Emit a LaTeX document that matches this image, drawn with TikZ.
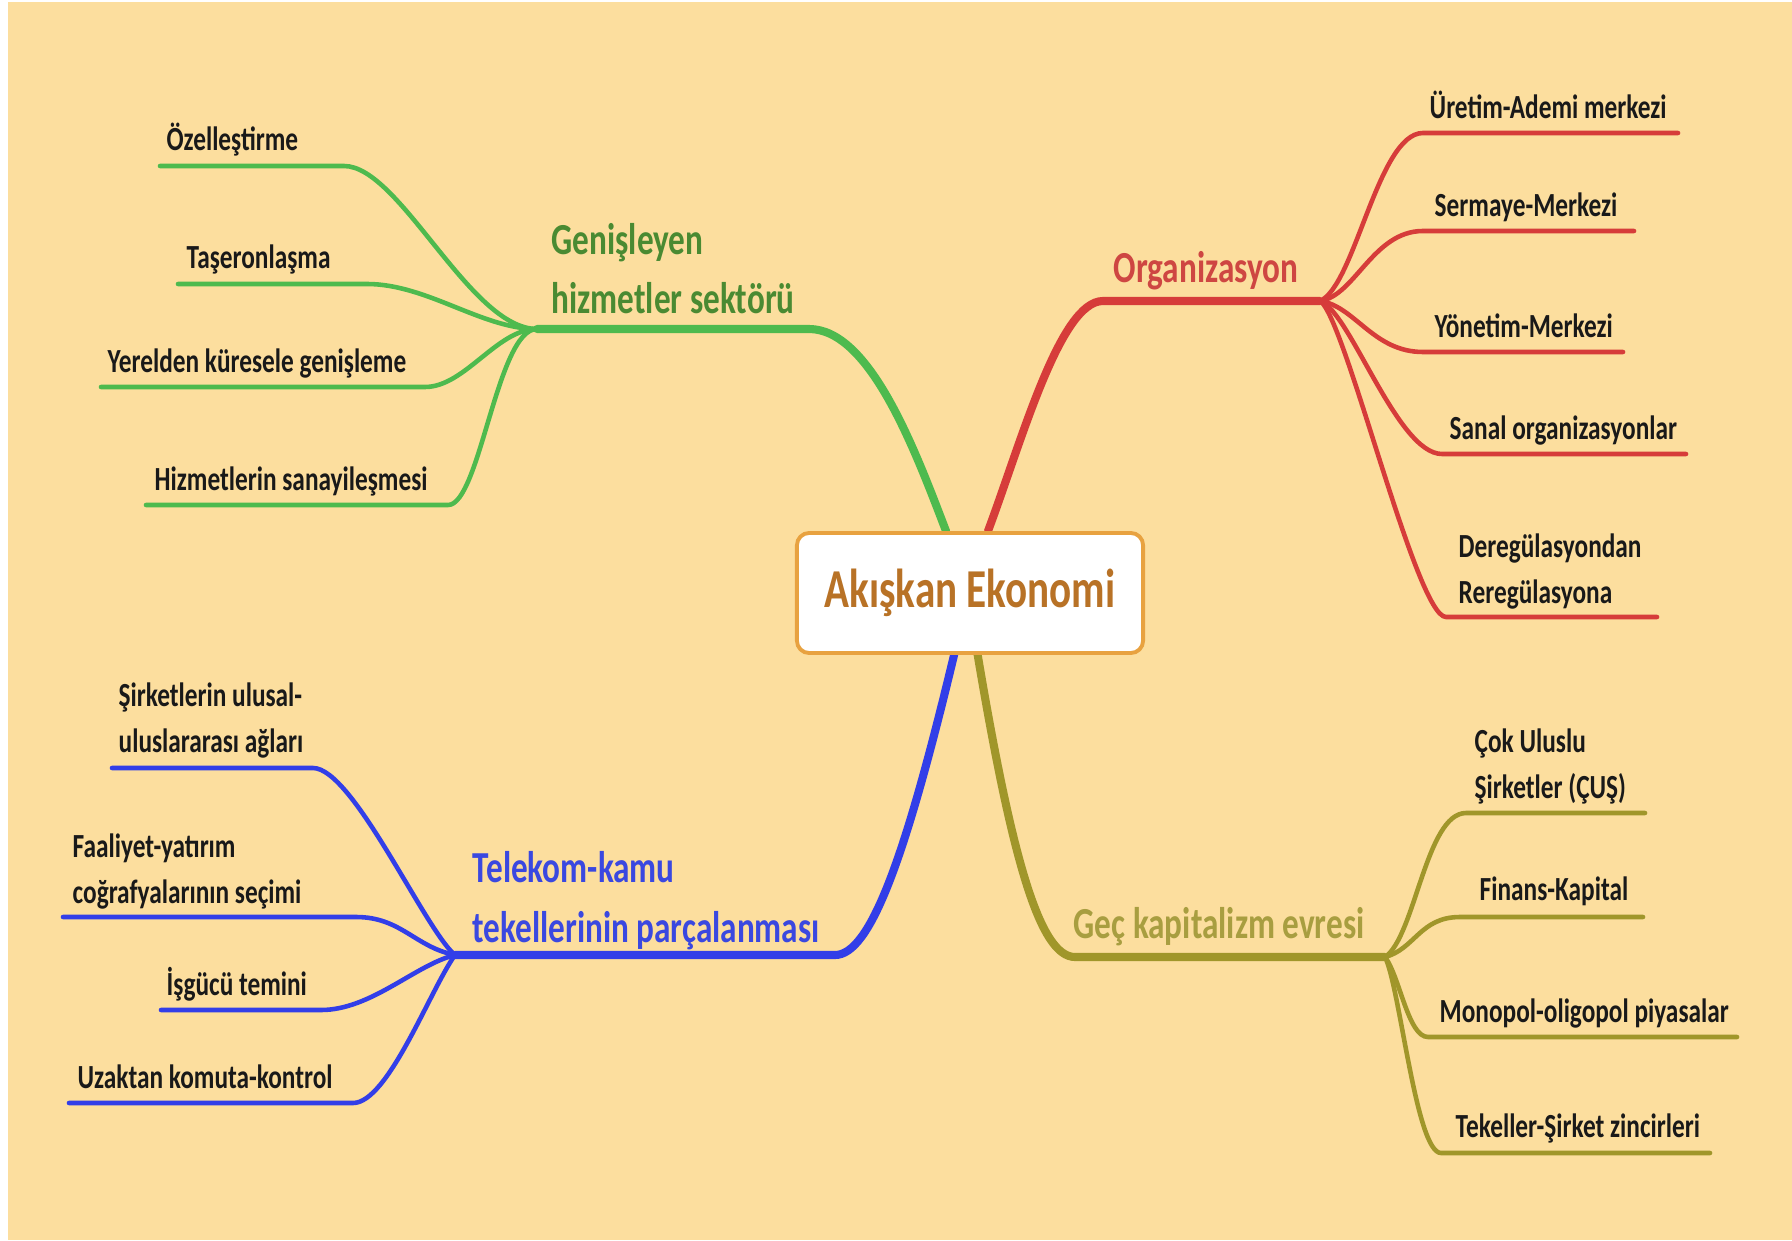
\documentclass[tikz,border=0pt]{standalone}
\usepackage{fontspec}
\setmainfont{Carlito}[FakeStretch=0.75]
\usepackage{tikz}
\usetikzlibrary{positioning,calc}
\definecolor{bg}{RGB}{252,222,158}
\definecolor{grn}{RGB}{78,186,78}
\definecolor{grntxt}{RGB}{74,138,50}
\definecolor{rd}{RGB}{214,60,58}
\definecolor{rdtxt}{RGB}{206,70,66}
\definecolor{blu}{RGB}{50,62,232}
\definecolor{blutxt}{RGB}{58,72,224}
\definecolor{olv}{RGB}{160,150,42}
\definecolor{olvtxt}{RGB}{168,158,64}
\definecolor{ecotxt}{RGB}{184,114,38}
\definecolor{ecoline}{RGB}{232,162,64}
\tikzset{
  leaf/.style={font=\bfseries\fontsize{9.6}{12.8}\selectfont,anchor=base west,inner sep=0pt,align=left,text={black!90}},
  topic/.style={font=\bfseries\fontsize{12.6}{17}\selectfont,anchor=base west,inner sep=0pt,align=left},
  trunk/.style={line width=2.3pt,line cap=round},
  twig/.style={line width=1.3pt,line cap=round},
  ecobox/.style={draw=ecoline,line width=1.1pt,fill=white,rounded corners=3.5pt,minimum width=3.46cm,minimum height=1.2cm,text=ecotxt,font=\bfseries\fontsize{15.6}{18}\selectfont}
}
\begin{document}
\begin{tikzpicture}[x=0.01cm,y=-0.01cm]
\useasboundingbox (0,0) rectangle (1792,1240);
\fill[white] (0,0) rectangle (1792,1240);
\fill[bg] (8,2) rectangle (1792,1240);
% hubs and trunks
\coordinate (gen0) at (946,531); \coordinate (gen1) at (809,329); \coordinate (gen) at (537,329);
\coordinate (org0) at (988,531); \coordinate (org1) at (1103,301); \coordinate (org) at (1320,301);
\coordinate (tel0) at (955,651); \coordinate (tel1) at (835,955); \coordinate (tel) at (455,955);
\coordinate (gec0) at (977,651); \coordinate (gec1) at (1075,957); \coordinate (gec) at (1385,957);
\draw[trunk,grn] (gen0) .. controls (915,450) and (870,329) .. (gen1) -- (gen);
\draw[trunk,rd] (org0) .. controls (1022,440) and (1060,301) .. (org1) -- (org);
\draw[trunk,blu] (tel0) .. controls (905,860) and (870,955) .. (tel1) -- (tel);
\draw[trunk,olv] (gec0) .. controls (1012,860) and (1040,957) .. (gec1) -- (gec);
\node[topic,text=grntxt] (gent) at (551,314) {Genişleyen\\hizmetler sektörü};
\node[topic,text=rdtxt] (orgt) at (1113,283) {Organizasyon};
\node[topic,text=blutxt] (telt) at (472,942) {Telekom-kamu\\tekellerinin parçalanması};
\node[topic,text=olvtxt] (gect) at (1073,938) {Geç kapitalizm evresi};
\node[ecobox] (eco) at (970,593) {Akışkan Ekonomi};
% green leaves
\coordinate (g1) at (160,166); \coordinate (g1b) at (344,166);
\coordinate (g2) at (178,284); \coordinate (g2b) at (367,284);
\coordinate (g3) at (101,387); \coordinate (g3b) at (425,387);
\coordinate (g4) at (146,505); \coordinate (g4b) at (448,505);
\node[leaf] (g1t) at (166,151) {Özelleştirme};
\node[leaf] (g2t) at (186,269) {Taşeronlaşma};
\node[leaf] (g3t) at (107,373) {Yerelden küresele genişleme};
\node[leaf] (g4t) at (154,491) {Hizmetlerin sanayileşmesi};
\draw[twig,grn] (g1) -- (g1b) .. controls +(56,0) and +(-67,0) .. (gen);
\draw[twig,grn] (g2) -- (g2b) .. controls +(60,0) and +(-55,0) .. (gen);
\draw[twig,grn] (g3) -- (g3b) .. controls +(40,0) and +(-40,0) .. (gen);
\draw[twig,grn] (g4) -- (g4b) .. controls +(32,0) and +(-40,0) .. (gen);
% red leaves
\coordinate (r1) at (1423,133); \coordinate (r1e) at (1678,133);
\coordinate (r2) at (1423,231); \coordinate (r2e) at (1634,231);
\coordinate (r3) at (1423,352); \coordinate (r3e) at (1623,352);
\coordinate (r4) at (1442,454); \coordinate (r4e) at (1686,454);
\coordinate (r5) at (1446,617); \coordinate (r5e) at (1657,617);
\node[leaf] (r1t) at (1429,119) {Üretim-Ademi merkezi};
\node[leaf] (r2t) at (1434,217) {Sermaye-Merkezi};
\node[leaf] (r3t) at (1434,338) {Yönetim-Merkezi};
\node[leaf] (r4t) at (1449,440) {Sanal organizasyonlar};
\node[leaf] (r5t) at (1458,603) {Deregülasyondan\\Reregülasyona};
\draw[twig,rd] (org) .. controls +(35,-15) and +(-45,0) .. (r1) -- (r1e);
\draw[twig,rd] (org) .. controls +(35,-5) and +(-50,0) .. (r2) -- (r2e);
\draw[twig,rd] (org) .. controls +(35,5) and +(-50,0) .. (r3) -- (r3e);
\draw[twig,rd] (org) .. controls +(30,10) and +(-45,0) .. (r4) -- (r4e);
\draw[twig,rd] (org) .. controls +(25,15) and +(-30,0) .. (r5) -- (r5e);
% blue leaves
\coordinate (b1) at (112,768); \coordinate (b1b) at (313,768);
\coordinate (b2) at (63,917); \coordinate (b2b) at (356,917);
\coordinate (b3) at (161,1010); \coordinate (b3b) at (321,1010);
\coordinate (b4) at (69,1103); \coordinate (b4b) at (353,1103);
\node[leaf] (b1t) at (118,752) {Şirketlerin ulusal-\\uluslararası ağları};
\node[leaf] (b2t) at (72,903) {Faaliyet-yatırım\\coğrafyalarının seçimi};
\node[leaf] (b3t) at (166,995) {İşgücü temini};
\node[leaf] (b4t) at (77,1088) {Uzaktan komuta-kontrol};
\draw[twig,blu] (b1) -- (b1b) .. controls +(40,0) and +(-30,-25) .. (tel);
\draw[twig,blu] (b2) -- (b2b) .. controls +(45,0) and +(-40,-8) .. (tel);
\draw[twig,blu] (b3) -- (b3b) .. controls +(50,0) and +(-40,10) .. (tel);
\draw[twig,blu] (b4) -- (b4b) .. controls +(35,0) and +(-25,35) .. (tel);
% olive leaves
\coordinate (o1) at (1466,813); \coordinate (o1e) at (1645,813);
\coordinate (o2) at (1460,917); \coordinate (o2e) at (1643,917);
\coordinate (o3) at (1428,1037); \coordinate (o3e) at (1737,1037);
\coordinate (o4) at (1441,1153); \coordinate (o4e) at (1710,1153);
\node[leaf] (o1t) at (1474,798) {Çok Uluslu\\Şirketler (ÇUŞ)};
\node[leaf] (o2t) at (1479,900) {Finans-Kapital};
\node[leaf] (o3t) at (1439,1022) {Monopol-oligopol piyasalar};
\node[leaf] (o4t) at (1455,1137) {Tekeller-Şirket zincirleri};
\draw[twig,olv] (gec) .. controls +(30,-20) and +(-40,0) .. (o1) -- (o1e);
\draw[twig,olv] (gec) .. controls +(30,-8) and +(-40,0) .. (o2) -- (o2e);
\draw[twig,olv] (gec) .. controls +(15,20) and +(-20,0) .. (o3) -- (o3e);
\draw[twig,olv] (gec) .. controls +(15,30) and +(-25,0) .. (o4) -- (o4e);
\end{tikzpicture}
\end{document}
